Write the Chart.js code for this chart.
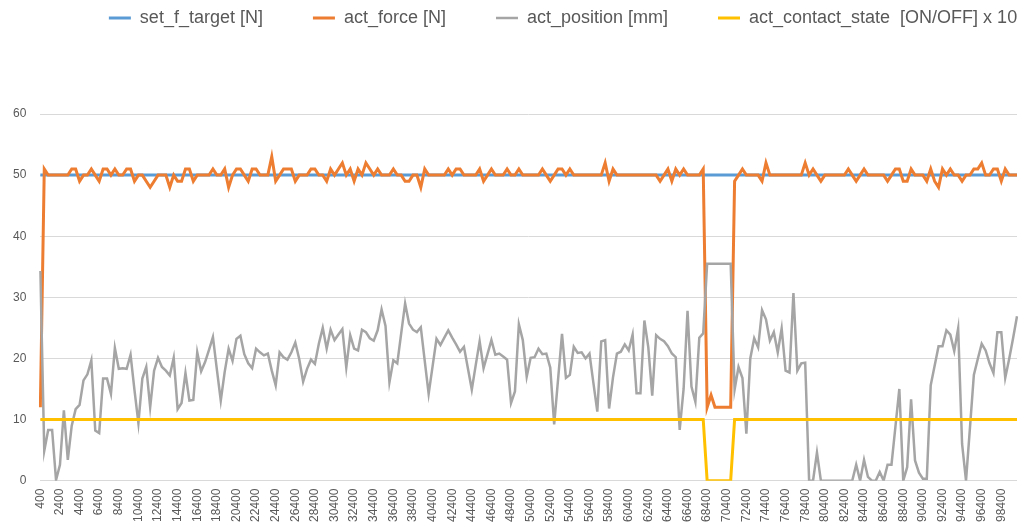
<!DOCTYPE html>
<html>
<head>
<meta charset="utf-8">
<script src="https://cdn.jsdelivr.net/npm/chart.js@4.4.1/dist/chart.umd.min.js"></script>
<style>
    html, body { margin: 0; padding: 0; background: #ffffff; }
    #chart-container { position: relative; width: 1019px; height: 527px; }
</style>
</head>
<body>
<div id="chart-container"><canvas id="chart"></canvas></div>
<script>
// time stamps (one sample every 400)
const timeLabels = [
    400, 800, 1200, 1600, 2000, 2400, 2800, 3200, 3600, 4000,
    4400, 4800, 5200, 5600, 6000, 6400, 6800, 7200, 7600, 8000,
    8400, 8800, 9200, 9600, 10000, 10400, 10800, 11200, 11600, 12000,
    12400, 12800, 13200, 13600, 14000, 14400, 14800, 15200, 15600, 16000,
    16400, 16800, 17200, 17600, 18000, 18400, 18800, 19200, 19600, 20000,
    20400, 20800, 21200, 21600, 22000, 22400, 22800, 23200, 23600, 24000,
    24400, 24800, 25200, 25600, 26000, 26400, 26800, 27200, 27600, 28000,
    28400, 28800, 29200, 29600, 30000, 30400, 30800, 31200, 31600, 32000,
    32400, 32800, 33200, 33600, 34000, 34400, 34800, 35200, 35600, 36000,
    36400, 36800, 37200, 37600, 38000, 38400, 38800, 39200, 39600, 40000,
    40400, 40800, 41200, 41600, 42000, 42400, 42800, 43200, 43600, 44000,
    44400, 44800, 45200, 45600, 46000, 46400, 46800, 47200, 47600, 48000,
    48400, 48800, 49200, 49600, 50000, 50400, 50800, 51200, 51600, 52000,
    52400, 52800, 53200, 53600, 54000, 54400, 54800, 55200, 55600, 56000,
    56400, 56800, 57200, 57600, 58000, 58400, 58800, 59200, 59600, 60000,
    60400, 60800, 61200, 61600, 62000, 62400, 62800, 63200, 63600, 64000,
    64400, 64800, 65200, 65600, 66000, 66400, 66800, 67200, 67600, 68000,
    68400, 68800, 69200, 69600, 70000, 70400, 70800, 71200, 71600, 72000,
    72400, 72800, 73200, 73600, 74000, 74400, 74800, 75200, 75600, 76000,
    76400, 76800, 77200, 77600, 78000, 78400, 78800, 79200, 79600, 80000,
    80400, 80800, 81200, 81600, 82000, 82400, 82800, 83200, 83600, 84000,
    84400, 84800, 85200, 85600, 86000, 86400, 86800, 87200, 87600, 88000,
    88400, 88800, 89200, 89600, 90000, 90400, 90800, 91200, 91600, 92000,
    92400, 92800, 93200, 93600, 94000, 94400, 94800, 95200, 95600, 96000,
    96400, 96800, 97200, 97600, 98000, 98400, 98800, 99200, 99600, 100000
];

const setTarget = [
    50, 50, 50, 50, 50, 50, 50, 50, 50, 50,
    50, 50, 50, 50, 50, 50, 50, 50, 50, 50,
    50, 50, 50, 50, 50, 50, 50, 50, 50, 50,
    50, 50, 50, 50, 50, 50, 50, 50, 50, 50,
    50, 50, 50, 50, 50, 50, 50, 50, 50, 50,
    50, 50, 50, 50, 50, 50, 50, 50, 50, 50,
    50, 50, 50, 50, 50, 50, 50, 50, 50, 50,
    50, 50, 50, 50, 50, 50, 50, 50, 50, 50,
    50, 50, 50, 50, 50, 50, 50, 50, 50, 50,
    50, 50, 50, 50, 50, 50, 50, 50, 50, 50,
    50, 50, 50, 50, 50, 50, 50, 50, 50, 50,
    50, 50, 50, 50, 50, 50, 50, 50, 50, 50,
    50, 50, 50, 50, 50, 50, 50, 50, 50, 50,
    50, 50, 50, 50, 50, 50, 50, 50, 50, 50,
    50, 50, 50, 50, 50, 50, 50, 50, 50, 50,
    50, 50, 50, 50, 50, 50, 50, 50, 50, 50,
    50, 50, 50, 50, 50, 50, 50, 50, 50, 50,
    50, 50, 50, 50, 50, 50, 50, 50, 50, 50,
    50, 50, 50, 50, 50, 50, 50, 50, 50, 50,
    50, 50, 50, 50, 50, 50, 50, 50, 50, 50,
    50, 50, 50, 50, 50, 50, 50, 50, 50, 50,
    50, 50, 50, 50, 50, 50, 50, 50, 50, 50,
    50, 50, 50, 50, 50, 50, 50, 50, 50, 50,
    50, 50, 50, 50, 50, 50, 50, 50, 50, 50,
    50, 50, 50, 50, 50, 50, 50, 50, 50, 50
];

const actForce = [
    12, 51, 50, 50, 50, 50, 50, 50, 51, 51,
    49, 50, 50, 51, 50, 49, 51, 51, 50, 51,
    50, 50, 51, 51, 49, 50, 50, 49, 48, 49,
    50, 50, 50, 48, 50, 49, 49, 51, 51, 49,
    50, 50, 50, 50, 51, 50, 50, 51, 48, 50,
    51, 51, 50, 49, 51, 51, 50, 50, 50, 53,
    49, 50, 51, 51, 51, 49, 50, 50, 50, 51,
    51, 50, 50, 49, 51, 50, 51, 52, 50, 51,
    49, 51, 50, 52, 51, 50, 51, 50, 50, 50,
    51, 50, 50, 49, 49, 50, 50, 48, 51, 50,
    50, 50, 50, 50, 51, 50, 51, 51, 50, 50,
    50, 50, 51, 49, 50, 51, 50, 50, 50, 51,
    50, 50, 51, 50, 50, 50, 50, 50, 51, 50,
    49, 50, 51, 51, 50, 51, 50, 50, 50, 50,
    50, 50, 50, 50, 52, 49, 51, 50, 50, 50,
    50, 50, 50, 50, 50, 50, 50, 50, 49, 50,
    51, 49, 51, 50, 51, 50, 50, 50, 50, 51,
    12, 14, 12, 12, 12, 12, 12, 49, 50, 51,
    50, 50, 50, 50, 49, 52, 50, 50, 50, 50,
    50, 50, 50, 50, 50, 52, 50, 51, 50, 49,
    50, 50, 50, 50, 50, 50, 51, 50, 49, 50,
    51, 50, 50, 50, 50, 50, 49, 50, 51, 51,
    49, 49, 51, 50, 50, 50, 49, 51, 49, 48,
    51, 50, 51, 50, 50, 49, 50, 50, 51, 51,
    52, 50, 50, 51, 51, 49, 51, 50, 50, 50
];

const actPosition = [
    34.3, 4.9, 8.3, 8.3, 0.1, 2.6, 11.5, 3.4, 9.0, 11.7,
    12.4, 16.4, 17.4, 19.7, 8.2, 7.8, 16.7, 16.7, 14.2, 21.7,
    18.3, 18.4, 18.3, 20.6, 14.8, 9.4, 16.7, 18.6, 12.0, 18.0,
    20.1, 18.6, 18.0, 17.2, 20.1, 11.7, 12.7, 17.6, 13.1, 13.2,
    21.0, 17.9, 19.4, 21.4, 23.5, 18.2, 13.1, 17.8, 21.6, 19.6,
    23.2, 23.7, 20.7, 19.2, 18.4, 21.6, 21.0, 20.5, 20.8, 18.0,
    15.6, 21.0, 20.2, 19.8, 21.0, 22.6, 19.9, 16.2, 18.3, 19.8,
    19.1, 22.4, 25.0, 21.6, 24.7, 23.0, 23.9, 24.8, 18.5, 23.8,
    21.6, 21.3, 24.7, 24.3, 23.3, 22.9, 24.6, 28.0, 25.3, 16.1,
    19.7, 19.2, 24.1, 29.0, 25.7, 24.7, 24.3, 25.1, 19.6, 14.2,
    18.7, 23.2, 22.2, 23.4, 24.6, 23.4, 22.3, 21.1, 21.9, 18.4,
    14.9, 18.9, 22.8, 18.4, 20.7, 23.0, 20.6, 20.8, 20.3, 19.8,
    12.7, 14.6, 25.6, 23.0, 17.0, 20.1, 20.2, 21.6, 20.7, 20.8,
    18.5, 9.2, 16.6, 24.0, 16.8, 17.3, 21.9, 20.9, 21.0, 20.0,
    20.8, 16.0, 11.3, 22.8, 23.0, 11.8, 16.9, 20.8, 21.1, 22.3,
    21.3, 23.9, 14.3, 14.3, 26.2, 21.8, 13.9, 23.8, 23.2, 22.8,
    22.0, 20.8, 20.2, 8.3, 15.0, 27.8, 15.4, 12.9, 23.4, 24.1,
    35.5, 35.5, 35.5, 35.5, 35.5, 35.5, 35.5, 14.9, 18.6, 16.8,
    7.7, 20.0, 23.3, 21.8, 27.9, 26.4, 22.9, 24.3, 21.0, 24.9,
    18.0, 17.7, 30.7, 18.0, 19.2, 19.3, 0, 0, 4.6, 0,
    0, 0, 0, 0, 0, 0, 0, 0, 2.6, 0,
    3.4, 0.6, 0, 0, 1.4, 0, 2.6, 2.6, 8.8, 15.0,
    0, 2.2, 13.3, 3.3, 1.3, 0.3, 0.3, 15.6, 18.8, 22.0,
    22.0, 24.6, 23.9, 21.2, 24.9, 6.0, 0, 8.6, 17.3, 19.9,
    22.4, 21.3, 19.2, 17.6, 24.3, 24.3, 16.8, 19.9, 23.3, 26.9
];

const contactState = [
    10, 10, 10, 10, 10, 10, 10, 10, 10, 10,
    10, 10, 10, 10, 10, 10, 10, 10, 10, 10,
    10, 10, 10, 10, 10, 10, 10, 10, 10, 10,
    10, 10, 10, 10, 10, 10, 10, 10, 10, 10,
    10, 10, 10, 10, 10, 10, 10, 10, 10, 10,
    10, 10, 10, 10, 10, 10, 10, 10, 10, 10,
    10, 10, 10, 10, 10, 10, 10, 10, 10, 10,
    10, 10, 10, 10, 10, 10, 10, 10, 10, 10,
    10, 10, 10, 10, 10, 10, 10, 10, 10, 10,
    10, 10, 10, 10, 10, 10, 10, 10, 10, 10,
    10, 10, 10, 10, 10, 10, 10, 10, 10, 10,
    10, 10, 10, 10, 10, 10, 10, 10, 10, 10,
    10, 10, 10, 10, 10, 10, 10, 10, 10, 10,
    10, 10, 10, 10, 10, 10, 10, 10, 10, 10,
    10, 10, 10, 10, 10, 10, 10, 10, 10, 10,
    10, 10, 10, 10, 10, 10, 10, 10, 10, 10,
    10, 10, 10, 10, 10, 10, 10, 10, 10, 10,
    0, 0, 0, 0, 0, 0, 0, 10, 10, 10,
    10, 10, 10, 10, 10, 10, 10, 10, 10, 10,
    10, 10, 10, 10, 10, 10, 10, 10, 10, 10,
    10, 10, 10, 10, 10, 10, 10, 10, 10, 10,
    10, 10, 10, 10, 10, 10, 10, 10, 10, 10,
    10, 10, 10, 10, 10, 10, 10, 10, 10, 10,
    10, 10, 10, 10, 10, 10, 10, 10, 10, 10,
    10, 10, 10, 10, 10, 10, 10, 10, 10, 10
];

const yTicks = [0, 10, 20, 30, 40, 50, 60];
const labelEvery = 5;

const textColor = '#595959';
const gridColor = '#d9d9d9';
const fontFamily = '"Liberation Sans", Arial, sans-serif';

// push the plot area down below the legend and nudge the legend right, like the Excel layout
const legendLayout = {
    id: 'legendLayout',
    beforeInit(chart) {
        const fit = chart.legend.fit;
        chart.legend.fit = function () {
            fit.call(this);
            this.height += 77;
        };
    },
    afterLayout(chart) {
        chart.legend.left += 55;
        chart.legend.right += 55;
    }
};

function series(label, data, color, width, order) {
    return {
        label: label,
        data: data,
        borderColor: color,
        backgroundColor: color,
        borderWidth: width,
        pointRadius: 0,
        pointHoverRadius: 0,
        pointStyle: 'line',
        tension: 0,
        fill: false,
        order: order
    };
}

const ctx = document.getElementById('chart').getContext('2d');
new Chart(ctx, {
    type: 'line',
    data: {
        labels: timeLabels,
        datasets: [
            series('set_f_target [N]', setTarget, '#5B9BD5', 3, 4),
            series('act_force [N]', actForce, '#ED7D31', 3, 3),
            series('act_position [mm]', actPosition, '#A5A5A5', 2.5, 2),
            series('act_contact_state  [ON/OFF] x 10', contactState, '#FFC000', 3, 1)
        ]
    },
    options: {
        responsive: true,
        maintainAspectRatio: false,
        animation: false,
        events: [],
        layout: {
            padding: {top: -41, left: -1, right: 2, bottom: 5}
        },
        plugins: {
            legend: {
                position: 'top',
                align: 'center',
                labels: {
                    usePointStyle: true,
                    pointStyle: 'line',
                    pointStyleWidth: 22,
                    padding: 50,
                    color: textColor,
                    font: {family: fontFamily, size: 18},
                    sort: (a, b) => a.datasetIndex - b.datasetIndex
                }
            },
            tooltip: {enabled: false}
        },
        scales: {
            x: {
                type: 'category',
                offset: false,
                grid: {display: false},
                border: {display: false},
                ticks: {
                    autoSkip: false,
                    minRotation: 90,
                    maxRotation: 90,
                    padding: 0,
                    color: textColor,
                    font: {family: fontFamily, size: 12},
                    callback: function (value, index) {
                        return index % labelEvery === 0 ? this.getLabelForValue(value) : null;
                    }
                }
            },
            y: {
                min: yTicks[0],
                max: yTicks[yTicks.length - 1],
                afterBuildTicks: function (axis) {
                    axis.ticks = yTicks.map(v => ({value: v}));
                },
                grid: {color: gridColor, lineWidth: 1, drawTicks: false},
                border: {display: false},
                ticks: {
                    padding: 14,
                    color: textColor,
                    font: {family: fontFamily, size: 12}
                }
            }
        }
    },
    plugins: [legendLayout]
});
</script>
</body>
</html>
